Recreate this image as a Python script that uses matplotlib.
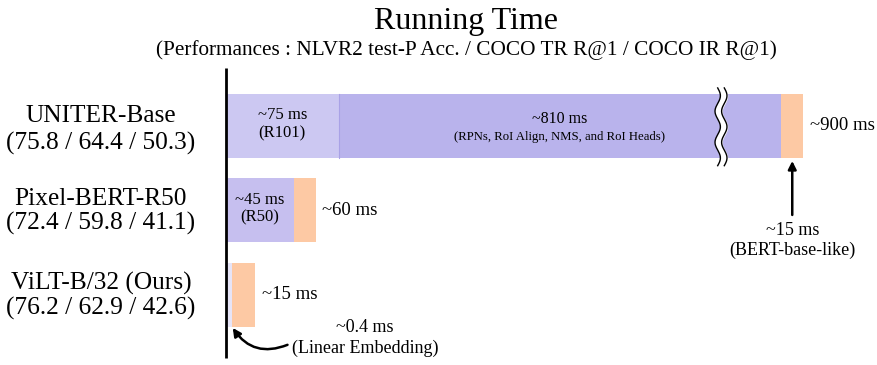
import numpy as np
import matplotlib
matplotlib.use("Agg")
import matplotlib.pyplot as plt

plt.rcParams['font.family'] = ['Liberation Serif', 'DejaVu Serif']

# ---- data ----
models = ["UNITER-Base", "Pixel-BERT-R50", "ViLT-B/32 (Ours)"]
scores = ["(75.8 / 64.4 / 50.3)", "(72.4 / 59.8 / 41.1)", "(76.2 / 62.9 / 42.6)"]
# drawn segment lengths (ms-like units; detector segment compressed by the axis break,
# linear embedding exaggerated for visibility)
visual_emb = [75, 45, 4]          # visual embedding part
detector = [295, 0, 0]            # region-feature part (shown with a break)
transformer = [15, 15, 15]        # transformer part
emb_labels = ["~75 ms\n(R101)", "~45 ms\n(R50)", None]
total_labels = ["~900 ms", "~60 ms", "~15 ms"]
det_label = "~810 ms"
det_sub = "(RPNs, RoI Align, NMS, and RoI Heads)"
break_at = 330

col_light = "#CCC8F2"
col_purple = "#B9B3EC"
col_pix = "#C6BFEF"
col_vilt = "#E6E4F7"
col_orange = "#FDC9A4"

W, H = 878, 365
fig = plt.figure(figsize=(W / 100, H / 100), dpi=100)
ax = fig.add_axes([226 / W, (H - 358) / H, 1 - 226 / W, (358 - 68) / H])
ax.set_xlim(0, (W - 226) / 1.5)
ax.set_ylim(2.746, -0.686)
ax.axis("off")
ax.plot([0, 0], [2.746, -0.686], color="black", lw=2, clip_on=False, solid_capstyle="butt")

ypos = np.arange(len(models))
bh = 0.757
emb_cols = [col_light, col_pix, col_vilt]
ax.barh(ypos, visual_emb, height=bh, color=emb_cols, edgecolor="none")
ax.barh(ypos, detector, left=visual_emb, height=bh, color=col_purple, edgecolor="none")
left_t = np.array(visual_emb) + np.array(detector)
ax.barh(ypos, transformer, left=left_t, height=bh, color=col_orange, edgecolor="none")
# thin divider line
ax.plot([visual_emb[0], visual_emb[0]], [-bh / 2, bh / 2], color="#A9A2E6", lw=0.8)

# axis break
yy = np.linspace(-0.45, 0.47, 300)
xx = break_at + 1.8 * np.sin((yy + 0.45) / 0.92 * 2 * np.pi * 2.5)
ax.fill_betweenx(yy, xx - 2.2, xx + 2.2, color="white", zorder=3)
ax.plot(xx - 2.2, yy, color="black", lw=1, zorder=4)
ax.plot(xx + 2.2, yy, color="black", lw=1, zorder=4)

# labels inside bars
for i, lab in enumerate(emb_labels):
    if lab:
        ax.text(visual_emb[i] / 2, ypos[i] - 0.02, lab, ha="center", va="center",
                fontsize=12, linespacing=1.15)
ax.text(visual_emb[0] + detector[0] / 2, -0.085, det_label, ha="center", va="center", fontsize=11.5)
ax.text(visual_emb[0] + detector[0] / 2, 0.13, det_sub, ha="center", va="center", fontsize=9.2)

tot_offsets = [4.3, 4, 5]
for i, lab in enumerate(total_labels):
    ax.text(left_t[i] + transformer[i] + tot_offsets[i], ypos[i], lab, ha="left", va="center",
            fontsize=13.5)

# BERT-base-like annotation
xb = left_t[0] + transformer[0] / 2
ax.annotate("", xy=(xb, 0.414), xytext=(xb, 1.053),
            arrowprops=dict(arrowstyle="-|>", color="black", lw=1.8, mutation_scale=12,
                            shrinkA=0, shrinkB=0))
ax.text(xb, 1.36, "~15 ms\n(BERT-base-like)", ha="center", va="center", fontsize=13,
        linespacing=1.2)

# linear embedding annotation
ax.annotate("", xy=(4.5, 2.39), xytext=(41, 2.59),
            arrowprops=dict(arrowstyle="-|>", color="black", lw=1.8, mutation_scale=12,
                            shrinkA=0, shrinkB=0,
                            connectionstyle="arc3,rad=-0.4"))
ax.text(92.7, 2.38, "~0.4 ms", ha="center", va="center", fontsize=13)
ax.text(92.7, 2.63, "(Linear Embedding)", ha="center", va="center", fontsize=13, clip_on=False)

# left labels
name_base = [122, 205, 290]
score_base = [150, 230, 315]
for m, s, yn, ys in zip(models, scores, name_base, score_base):
    fig.text(101 / W, 1 - yn / H, m, ha="center", va="baseline", fontsize=18.3)
    fig.text(101 / W, 1 - ys / H, s, ha="center", va="baseline", fontsize=18.3)

fig.text(466 / W, 1 - 29 / H, "Running Time", ha="center", va="baseline", fontsize=23)
fig.text(466 / W, 1 - 55 / H, "(Performances : NLVR2 test-P Acc. / COCO TR R@1 / COCO IR R@1)",
         ha="center", va="baseline", fontsize=15.3)

fig.savefig("out.png", dpi=100)
